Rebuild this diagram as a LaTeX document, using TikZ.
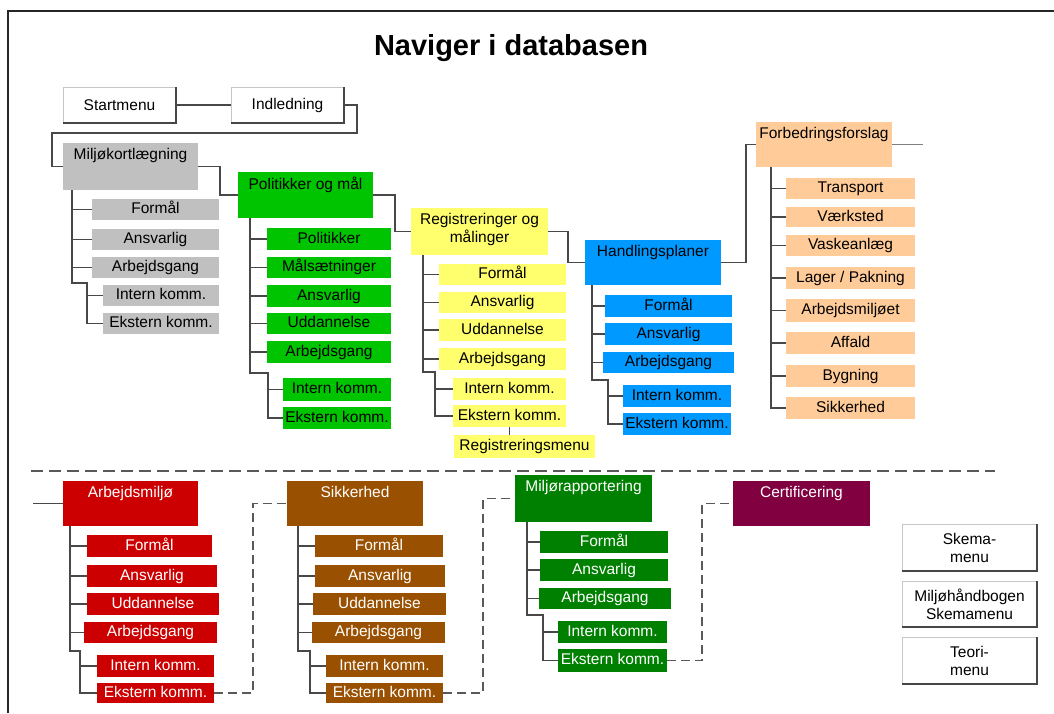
\documentclass[tikz,border=0pt]{standalone}
\usepackage{fontspec}
\setmainfont{Liberation Sans}
\definecolor{cgray}{RGB}{192,192,192}
\definecolor{cgreen}{RGB}{0,196,0}
\definecolor{cyellow}{RGB}{255,255,110}
\definecolor{cblue}{RGB}{0,153,255}
\definecolor{cpeach}{RGB}{255,204,153}
\definecolor{cred}{RGB}{204,0,0}
\definecolor{cbrown}{RGB}{153,80,0}
\definecolor{cdkgreen}{RGB}{0,128,0}
\definecolor{cmaroon}{RGB}{128,0,64}
\definecolor{linegray}{RGB}{72,72,72}
\newcommand\fs{\fontsize{15.5}{18}\selectfont}
\newcommand\Bx[7]{\node[#1,minimum width={(#5-#3)*1pt},minimum height={(#6-#4)*1pt}] (#2) at ({(#3+#5)/2},{(#4+#6)/2}) {#7};}
\tikzset{
 bx/.style={inner sep=0pt, outer sep=0pt, align=center, font=\fs, text height=11pt, text depth=3pt},
 Gy/.style={bx, fill=cgray}, Gn/.style={bx, fill=cgreen}, Ye/.style={bx, fill=cyellow},
 Bl/.style={bx, fill=cblue}, Pe/.style={bx, fill=cpeach},
 Rd/.style={bx, fill=cred, text=white}, Br/.style={bx, fill=cbrown, text=white},
 Dg/.style={bx, fill=cdkgreen, text=white}, Mr/.style={bx, fill=cmaroon, text=white},
 ttl/.style={anchor=north, yshift=-5pt, inner sep=0pt, font=\fs, align=center},
 wb/.style={inner sep=0pt, outer sep=0pt, fill=white, draw=gray!45, line width=0.8pt, align=center, font=\fs},
 shd/.style={draw=gray!55!black, line width=2.2pt},
 conn/.style={draw=linegray, line width=1.3pt},
 dconn/.style={draw=gray!70!black, line width=1.5pt, dash pattern=on 9pt off 5pt},
 sepline/.style={draw=gray!70!black, line width=1.7pt, dash pattern=on 12pt off 6pt},
}
\begin{document}
\begin{tikzpicture}[x=1pt,y=-1pt]
\useasboundingbox (0,0) rectangle (1054,713);
\fill[white] (0,0) rectangle (1054,713);
\draw[line width=1.6pt, black!85] (8,713) -- (8,11) -- (1054,11);
\node[font=\fontsize{29}{32}\selectfont\bfseries, anchor=base] (title) at (511,55) {Naviger i databasen};

% top menu boxes
\Bx{wb}{sm}{63}{87}{176}{123}{Startmenu}
\Bx{wb}{ind}{231}{87}{344}{123}{Indledning}
\foreach \n in {sm,ind} \draw[shd] (\n.south west) -- (\n.south east) -- (\n.north east);

% Miljokortlaegning
\Bx{Gy, label={[ttl]north:Miljøkortlægning}}{mk}{63}{143}{198}{190}{}
\Bx{Gy}{mk1}{92}{199}{219}{220}{Formål}
\Bx{Gy}{mk2}{92}{229}{219}{250}{Ansvarlig}
\Bx{Gy}{mk3}{92}{257}{219}{278}{Arbejdsgang}
\Bx{Gy}{mk4}{103}{285}{219}{306}{Intern komm.}
\Bx{Gy}{mk5}{103}{313}{219}{334}{Ekstern komm.}

% Politikker
\Bx{Gn, label={[ttl]north:Politikker og mål}}{pol}{238}{172}{373}{218}{}
\Bx{Gn}{p1}{267}{228}{391}{250}{Politikker}
\Bx{Gn}{p2}{267}{257}{391}{278}{Målsætninger}
\Bx{Gn}{p3}{267}{285}{391}{307}{Ansvarlig}
\Bx{Gn}{p4}{267}{313}{391}{334}{Uddannelse}
\Bx{Gn}{p5}{267}{341}{391}{363}{Arbejdsgang}
\Bx{Gn}{p6}{283}{378}{391}{401}{Intern komm.}
\Bx{Gn}{p7}{283}{407}{391}{429}{Ekstern komm.}

% Registreringer
\Bx{Ye, label={[ttl]north:Registreringer og\\målinger}}{reg}{411}{208}{548}{255}{}
\Bx{Ye}{r1}{439}{264}{566}{285}{Formål}
\Bx{Ye}{r2}{439}{292}{566}{313}{Ansvarlig}
\Bx{Ye}{r3}{439}{319}{566}{341}{Uddannelse}
\Bx{Ye}{r4}{439}{348}{566}{370}{Arbejdsgang}
\Bx{Ye}{r5}{453}{378}{566}{400}{Intern komm.}
\Bx{Ye}{r6}{453}{405}{566}{427}{Ekstern komm.}
\Bx{Ye}{rm}{454}{435}{595}{458}{Registreringsmenu}

% Handlingsplaner
\Bx{Bl, label={[ttl]north:Handlingsplaner}}{hp}{585}{240}{721}{285}{}
\Bx{Bl}{h1}{605}{295}{732}{317}{Formål}
\Bx{Bl}{h2}{605}{323}{732}{345}{Ansvarlig}
\Bx{Bl}{h3}{603}{352}{734}{373}{Arbejdsgang}
\Bx{Bl}{h4}{623}{385}{731}{407}{Intern komm.}
\Bx{Bl}{h5}{623}{413}{731}{435}{Ekstern komm.}

% Forbedringsforslag
\Bx{Pe, label={[ttl]north:Forbedringsforslag}}{fb}{756}{122}{892}{167}{}
\Bx{Pe}{f1}{786}{178}{915}{199}{Transport}
\Bx{Pe}{f2}{786}{207}{915}{227}{Værksted}
\Bx{Pe}{f3}{786}{235}{915}{256}{Vaskeanlæg}
\Bx{Pe}{f4}{786}{267}{915}{289}{Lager / Pakning}
\Bx{Pe}{f5}{786}{299}{915}{322}{Arbejdsmiljøet}
\Bx{Pe}{f6}{786}{332}{915}{354}{Affald}
\Bx{Pe}{f7}{786}{365}{915}{387}{Bygning}
\Bx{Pe}{f8}{786}{397}{915}{419}{Sikkerhed}

% top connectors
\coordinate (j1) at (357,133);
\coordinate (j2) at (52,133);
\draw[conn] (sm.east) -- (ind.west);
\draw[conn] (ind.east) -| (j1) -- (j2) |- (mk.west);
\draw[conn] (mk.east) -- ++(22,0) |- (pol.west);
\draw[conn] (pol.east) -- ++(22,0) |- (reg.west);
\draw[conn] (reg.east) -- ++(20,0) |- (hp.west);
\draw[conn] (hp.east) -- ++(25,0) |- (fb.west);
\coordinate (fbEnd) at (923,144.5);
\draw[conn, draw=gray] (fb.east) -- (fbEnd);

% trees
\coordinate (mkT) at (72,190); \coordinate (mkB) at (87,283);
\foreach \c in {mk1,mk2,mk3} \draw[conn] (mkT) |- (\c.west);
\draw[conn] (mkT) |- (mkB) |- (mk5.west);
\draw[conn] (mkB) |- (mk4.west);

\coordinate (pT) at (250,218); \coordinate (pB) at (268,373);
\foreach \c in {p1,p2,p3,p4,p5} \draw[conn] (pT) |- (\c.west);
\draw[conn] (pT) |- (pB) |- (p7.west);
\draw[conn] (pB) |- (p6.west);

\coordinate (rT) at (423,255); \coordinate (rB) at (435,372);
\foreach \c in {r1,r2,r3,r4} \draw[conn] (rT) |- (\c.west);
\draw[conn] (rT) |- (rB) |- (r6.west);
\draw[conn] (rB) |- (r5.west);
\draw[conn] (r6.south) -- (r6.south |- rm.north);

\coordinate (hT) at (592,285); \coordinate (hB) at (608,380);
\foreach \c in {h1,h2,h3} \draw[conn] (hT) |- (\c.west);
\draw[conn] (hT) |- (hB) |- (h5.west);
\draw[conn] (hB) |- (h4.west);

\coordinate (fT) at (771,167);
\foreach \c in {f1,f2,f3,f4,f5,f6,f7,f8} \draw[conn] (fT) |- (\c.west);

% separator
\coordinate (sepA) at (31,471); \coordinate (sepB) at (995,471);
\draw[sepline] (sepA) -- (sepB);

% Arbejdsmiljo
\Bx{Rd, label={[ttl, text=white]north:Arbejdsmiljø}}{am}{63}{481}{198}{526}{}
\Bx{Rd}{a1}{87}{535}{212}{557}{Formål}
\Bx{Rd}{a2}{87}{565}{217}{587}{Ansvarlig}
\Bx{Rd}{a3}{87}{593}{219}{615}{Uddannelse}
\Bx{Rd}{a4}{84}{622}{217}{643}{Arbejdsgang}
\Bx{Rd}{a5}{97}{655}{214}{677}{Intern komm.}
\Bx{Rd}{a6}{97}{683}{214}{703}{Ekstern komm.}

% Sikkerhed
\Bx{Br, label={[ttl, text=white]north:Sikkerhed}}{sik}{287}{481}{423}{526}{}
\Bx{Br}{s1}{315}{535}{443}{557}{Formål}
\Bx{Br}{s2}{315}{565}{445}{587}{Ansvarlig}
\Bx{Br}{s3}{313}{593}{446}{615}{Uddannelse}
\Bx{Br}{s4}{312}{622}{445}{643}{Arbejdsgang}
\Bx{Br}{s5}{326}{655}{443}{677}{Intern komm.}
\Bx{Br}{s6}{326}{683}{443}{703}{Ekstern komm.}

% Miljorapportering
\Bx{Dg, label={[ttl, text=white]north:Miljørapportering}}{mr}{515}{475}{652}{522}{}
\Bx{Dg}{g1}{540}{531}{668}{553}{Formål}
\Bx{Dg}{g2}{540}{559}{668}{581}{Ansvarlig}
\Bx{Dg}{g3}{539}{588}{671}{609}{Arbejdsgang}
\Bx{Dg}{g4}{558}{621}{667}{643}{Intern komm.}
\Bx{Dg}{g5}{558}{649}{667}{672}{Ekstern komm.}

% Certificering
\Bx{Mr, label={[ttl, text=white]north:Certificering}}{cert}{733}{481}{870}{526}{}

% right menu boxes
\Bx{wb}{sk1}{902}{524}{1037}{571}{Skema-\\menu}
\Bx{wb}{sk2}{902}{581}{1037}{627}{Miljøhåndbogen\\Skemamenu}
\Bx{wb}{sk3}{902}{637}{1037}{684}{Teori-\\menu}
\foreach \n in {sk1,sk2,sk3} \draw[shd] (\n.south west) -- (\n.south east) -- (\n.north east);

% bottom trees
\coordinate (amIn) at (33,503.5);
\draw[conn] (amIn) -- (am.west);
\coordinate (aT) at (70,526); \coordinate (aB) at (80,651);
\foreach \c in {a1,a2,a3,a4} \draw[conn] (aT) |- (\c.west);
\draw[conn] (aT) |- (aB) |- (a6.west);
\draw[conn] (aB) |- (a5.west);

\coordinate (sT) at (298,526); \coordinate (sB) at (310,651);
\foreach \c in {s1,s2,s3,s4} \draw[conn] (sT) |- (\c.west);
\draw[conn] (sT) |- (sB) |- (s6.west);
\draw[conn] (sB) |- (s5.west);

\coordinate (gT) at (527,522); \coordinate (gB) at (543,615);
\foreach \c in {g1,g2,g3} \draw[conn] (gT) |- (\c.west);
\draw[conn] (gT) |- (gB) |- (g5.west);
\draw[conn] (gB) |- (g4.west);

% dashed links
\coordinate (d1) at (253,600);
\coordinate (d2) at (483,600);
\coordinate (d3) at (702,600);
\draw[dconn] (a6.east) -| (d1) |- (sik.west);
\draw[dconn] (s6.east) -| (d2) |- (mr.west);
\draw[dconn] (g5.east) -| (d3) |- (cert.west);
\end{tikzpicture}
\end{document}
